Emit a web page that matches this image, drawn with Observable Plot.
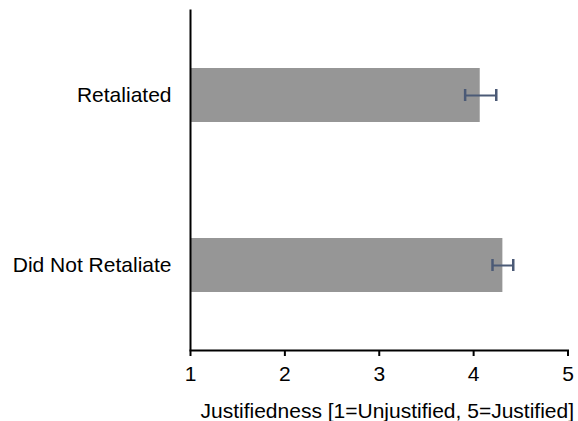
<!DOCTYPE html>
<html>
<head>
<meta charset="utf-8">
<script src="https://cdn.jsdelivr.net/npm/d3@7"></script>
<script src="https://cdn.jsdelivr.net/npm/@observablehq/plot@0.6"></script>
<style>
  html, body { margin: 0; padding: 0; background: white; }
</style>
</head>
<body>
<div id="chart"></div>
<script>
const categories = ["Retaliated", "Did Not Retaliate"];
const means = [4.07, 4.31];
const lower = [3.91, 4.20];
const upper = [4.24, 4.42];
const xTicks = [1, 2, 3, 4, 5];
const xLabel = "Justifiedness [1=Unjustified, 5=Justified]";

const data = categories.map((c, i) => ({cond: c, mean: means[i], lo: lower[i], hi: upper[i]}));

const errColor = "#4b5a76";

const chart = Plot.plot({
  width: 578,
  height: 421,
  marginLeft: 190,
  marginRight: 10.5,
  marginTop: 9.5,
  marginBottom: 71,
  style: {fontFamily: "Arial, 'Liberation Sans', sans-serif", fontSize: "21px", background: "white", color: "black"},
  x: {domain: [1, 5], ticks: xTicks},
  y: {domain: categories, paddingInner: 0.683, paddingOuter: 0.34},
  marks: [
    Plot.barX(data, {y: "cond", x1: d => 1, x2: "mean", fill: "#969696"}),
    Plot.ruleY(data, {y: "cond", x1: "lo", x2: "hi", stroke: errColor, strokeWidth: 2}),
    Plot.tickX(data, {y: "cond", x: "lo", stroke: errColor, strokeWidth: 2.5, insetTop: 21, insetBottom: 21}),
    Plot.tickX(data, {y: "cond", x: "hi", stroke: errColor, strokeWidth: 2.5, insetTop: 21, insetBottom: 21}),
    Plot.axisY({tickSize: 0, tickPadding: 19, label: null}),
    Plot.axisX({ticks: xTicks, tickSize: 6, tickPadding: 10, strokeWidth: 2, label: null, tickFormat: d3.format("d")}),
    Plot.ruleX([1], {stroke: "black", strokeWidth: 2}),
    Plot.frame({anchor: "bottom", stroke: "black", strokeWidth: 2}),
    Plot.text([xLabel], {text: d => d, frameAnchor: "bottom", lineAnchor: "top", dy: 53, dx: 8, fill: "black"})
  ]
});
document.getElementById("chart").appendChild(chart);
</script>
</body>
</html>
